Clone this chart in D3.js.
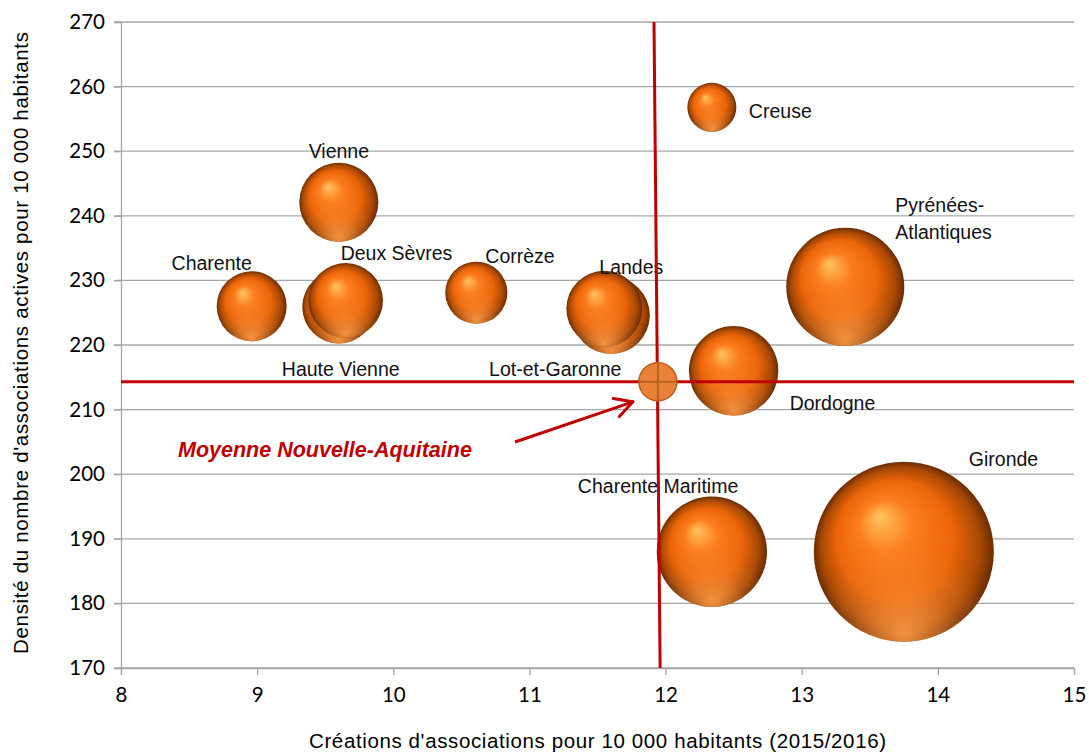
<!DOCTYPE html>
<html>
<head>
<meta charset="utf-8">
<script src="https://cdn.jsdelivr.net/npm/d3@7"></script>
<style>
  body { margin: 0; background: #fff; }
  text { font-family: "Liberation Sans", Arial, sans-serif; }
  .tick text { font-family: Lato, "Open Sans", sans-serif; }
</style>
</head>
<body>
<div id="chart"></div>
<script>
// Data
var departements = ["Creuse", "Vienne", "Pyrénées-Atlantiques", "Charente", "Haute Vienne", "Deux Sèvres",
                    "Corrèze", "Lot-et-Garonne", "Landes", "Dordogne", "Charente Maritime", "Gironde"];
var creations = [12.34, 9.60, 13.32, 8.96, 9.60, 9.65, 10.61, 11.60, 11.55, 12.50, 12.34, 13.75];
var densite   = [256.8, 242.1, 229.0, 226.0, 225.9, 226.9, 228.1, 224.6, 225.6, 216.0, 188.0, 188.0];
var taille    = [7.4, 19.3, 43, 15.1, 16.5, 17.2, 11.9, 18.5, 17.8, 24.7, 37.5, 100];

var moyenne = { x: 11.94, y: 214.3 };
var xTicks = [8, 9, 10, 11, 12, 13, 14, 15];
var yTicks = [170, 180, 190, 200, 210, 220, 230, 240, 250, 260, 270];

// label placement relative to the bubble centre (px)
var labelPos = {
  "Creuse": [37, 11, "start"],
  "Vienne": [0, -44, "middle"],
  "Pyrénées-Atlantiques": [50, -75, "start"],
  "Charente": [-40, -36, "middle"],
  "Haute Vienne": [-57, 69, "start"],
  "Deux Sèvres": [-5, -40, "start"],
  "Corrèze": [9, -30, "start"],
  "Lot-et-Garonne": [-122, 61, "start"],
  "Landes": [-5, -35, "start"],
  "Dordogne": [56, 39, "start"],
  "Charente Maritime": [-134, -59, "start"],
  "Gironde": [65, -86, "start"]
};

var margin = { top: 22, right: 15, bottom: 86, left: 121 },
    width = 1089 - margin.left - margin.right,
    height = 754 - margin.top - margin.bottom;

var svg = d3.select("#chart")
  .append("svg")
    .attr("width", 1089)
    .attr("height", 754);

var defs = svg.append("defs");

var grad = defs.append("radialGradient")
    .attr("id", "sphere")
    .attr("cx", "0.5").attr("cy", "0.5").attr("r", "0.5")
    .attr("fx", "0.36").attr("fy", "0.3");
grad.append("stop").attr("offset", "0").attr("stop-color", "#ffc460");
grad.append("stop").attr("offset", "0.3").attr("stop-color", "#fc7d1e");
grad.append("stop").attr("offset", "0.65").attr("stop-color", "#ec6508");
grad.append("stop").attr("offset", "0.88").attr("stop-color", "#a94905");
grad.append("stop").attr("offset", "1").attr("stop-color", "#6a2c02");

// soft reflected light at the bottom of each sphere
var refl = defs.append("radialGradient")
    .attr("id", "reflect")
    .attr("cx", "0.5").attr("cy", "0.95").attr("r", "0.5");
refl.append("stop").attr("offset", "0").attr("stop-color", "#ff9a45").attr("stop-opacity", 0.9);
refl.append("stop").attr("offset", "0.6").attr("stop-color", "#ff9a45").attr("stop-opacity", 0.25);
refl.append("stop").attr("offset", "1").attr("stop-color", "#ff9a45").attr("stop-opacity", 0);

var g = svg.append("g")
    .attr("transform", "translate(" + margin.left + "," + margin.top + ")");

var x = d3.scaleLinear().domain([8, 15]).range([0, width]);
var y = d3.scaleLinear().domain([170, 270]).range([height, 0]);
var r = d3.scaleSqrt().domain([0, 100]).range([0, 90]);

// horizontal gridlines
g.append("g")
  .selectAll("line")
  .data(yTicks)
  .enter()
  .append("line")
    .attr("x1", -7)
    .attr("x2", width)
    .attr("y1", d => y(d))
    .attr("y2", d => y(d))
    .style("stroke", "#a6a6a6")
    .style("stroke-width", 1.3);

// Y axis
var yAxis = g.append("g")
  .call(d3.axisLeft(y).tickValues(yTicks).tickSize(7).tickPadding(9));
yAxis.selectAll("text").style("font-size", "20.5px").style("fill", "#000");

// X axis
var xAxis = g.append("g")
  .attr("transform", "translate(0," + height + ")")
  .call(d3.axisBottom(x).tickValues(xTicks).tickFormat(d3.format("d")).tickSize(7).tickPadding(12));
xAxis.selectAll("text").style("font-size", "20.5px").style("fill", "#000");

g.selectAll(".domain, .tick line")
  .style("stroke", "#a6a6a6")
  .style("stroke-width", 1.3);

// axis titles
g.append("text")
  .attr("x", width / 2)
  .attr("y", height + 80)
  .attr("text-anchor", "middle")
  .style("font-size", "20.5px")
  .attr("textLength", 577)
  .text("Créations d'associations pour 10 000 habitants (2015/2016)");

g.append("text")
  .attr("transform", "rotate(-90)")
  .attr("x", -height / 2 + 2)
  .attr("y", -93)
  .attr("text-anchor", "middle")
  .style("font-size", "20.5px")
  .attr("textLength", 622)
  .text("Densité du nombre d'associations actives pour 10 000 habitants");

// bubbles
var data = departements.map(function (name, i) {
  return { name: name, x: creations[i], y: densite[i], size: taille[i] };
});

var bubbles = g.selectAll(".bubble")
  .data(data)
  .enter()
  .append("g")
    .attr("class", "bubble");

bubbles.append("circle")
  .attr("cx", d => x(d.x))
  .attr("cy", d => y(d.y))
  .attr("r", d => r(d.size))
  .style("fill", "url(#sphere)");

bubbles.append("circle")
  .attr("cx", d => x(d.x))
  .attr("cy", d => y(d.y))
  .attr("r", d => r(d.size))
  .style("fill", "url(#reflect)");

// labels
g.selectAll(".lbl")
  .data(data)
  .enter()
  .append("text")
    .attr("class", "lbl")
    .attr("x", d => x(d.x) + labelPos[d.name][0])
    .attr("y", d => y(d.y) + labelPos[d.name][1])
    .attr("text-anchor", d => labelPos[d.name][2])
    .style("font-size", "19.5px")
    .style("fill", "#111")
    .each(function (d) {
      var t = d3.select(this);
      if (d.name === "Pyrénées-Atlantiques") {
        t.append("tspan").text("Pyrénées-");
        t.append("tspan").attr("x", x(d.x) + labelPos[d.name][0]).attr("dy", 27).text("Atlantiques");
      } else {
        t.text(d.name);
      }
    });

// average lines
g.append("line")
  .attr("x1", 0)
  .attr("x2", width)
  .attr("y1", y(moyenne.y))
  .attr("y2", y(moyenne.y))
  .style("stroke", "#c00000")
  .style("stroke-width", 3);

g.append("line")
  .attr("x1", x(moyenne.x - 0.025))
  .attr("x2", x(moyenne.x + 0.02))
  .attr("y1", 0)
  .attr("y2", height)
  .style("stroke", "#c00000")
  .style("stroke-width", 3);

// average marker
var mx = x(moyenne.x) + 0.5, my = y(moyenne.y);
g.append("circle")
  .attr("cx", mx)
  .attr("cy", my)
  .attr("r", 19)
  .style("fill", "#ea8139")
  .style("stroke", "#b5621f")
  .style("stroke-width", 1.5);
g.append("line")
  .attr("x1", mx - 19).attr("x2", mx + 19)
  .attr("y1", my).attr("y2", my)
  .style("stroke", "#b5621f").style("stroke-width", 2);
g.append("line")
  .attr("x1", mx).attr("x2", mx)
  .attr("y1", my - 19).attr("y2", my + 19)
  .style("stroke", "#b5621f").style("stroke-width", 2);

// annotation
g.append("text")
  .attr("x", 57)
  .attr("y", 435)
  .style("font-size", "21.5px")
  .style("font-weight", "bold")
  .style("font-style", "italic")
  .style("fill", "#c00000")
  .text("Moyenne Nouvelle-Aquitaine");

var ax0 = 394, ay0 = 420, ax1 = mx - 25, ay1 = my + 20;
g.append("line")
  .attr("x1", ax0).attr("y1", ay0)
  .attr("x2", ax1).attr("y2", ay1)
  .style("stroke", "#c00000").style("stroke-width", 3);
var ang = Math.atan2(ay1 - ay0, ax1 - ax0);
[-0.5, 0.5].forEach(function (a) {
  g.append("line")
    .attr("x1", ax1).attr("y1", ay1)
    .attr("x2", ax1 - 20 * Math.cos(ang + a))
    .attr("y2", ay1 - 20 * Math.sin(ang + a))
    .style("stroke", "#c00000").style("stroke-width", 3)
    .style("stroke-linecap", "round");
});
</script>
</body>
</html>
